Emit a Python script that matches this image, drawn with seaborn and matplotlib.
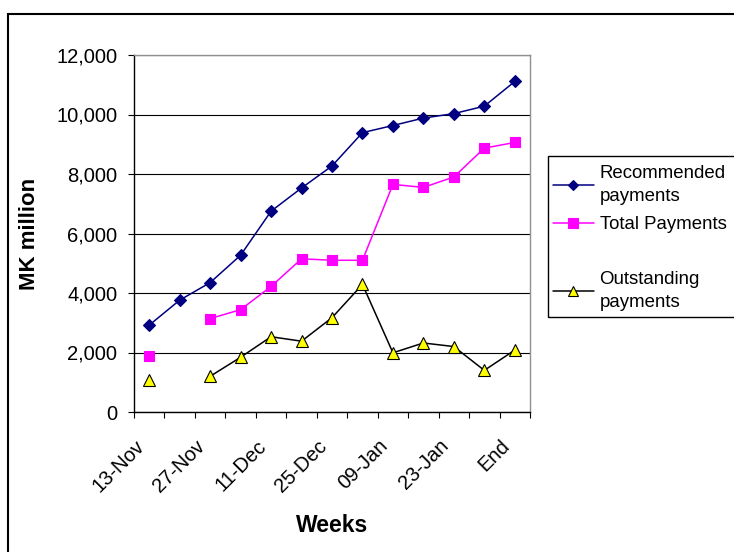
import numpy as np
import pandas as pd
import seaborn as sns
import matplotlib.pyplot as plt
from matplotlib.patches import Rectangle
from matplotlib.ticker import FuncFormatter
from matplotlib.transforms import ScaledTranslation

# weekly figures, MK million (None = no value that week)
weeks = ['13-Nov', '20-Nov', '27-Nov', '04-Dec', '11-Dec', '18-Dec', '25-Dec',
         '02-Jan', '09-Jan', '16-Jan', '23-Jan', '30-Jan', 'End']
recommended = [2920, 3760, 4350, 5270, 6750, 7530, 8270, 9390, 9630, 9880, 10030, 10280, 11110]
total_payments = [1880, None, 3140, 3440, 4220, 5150, 5100, 5100, 7650, 7550, 7900, 8870, 9060]
outstanding = [1060, None, 1200, 1840, 2530, 2380, 3170, 4290, 1990, 2320, 2200, 1400, 2080]

series_names = ['Recommended\npayments', 'Total Payments', 'Outstanding\npayments']
series_vals = [recommended, total_payments, outstanding]
line_cols = ['#000080', '#FF00FF', '#000000']
face_cols = ['#000080', '#FF00FF', '#FFFF00']
markers = ['D', 's', '^']
msizes = [6.5, 7.5, 8]

rows = []
for name, vals in zip(series_names, series_vals):
    seg = 0
    for i, v in enumerate(vals):
        if v is None:
            seg += 1
            continue
        rows.append({'series': name, 'week': i, 'value': v, 'seg': seg})
df = pd.DataFrame(rows)

sns.set_style('white')
plt.rcParams['font.family'] = ['Liberation Sans', 'DejaVu Sans']
plt.rcParams['text.color'] = 'black'
plt.rcParams['axes.labelcolor'] = 'black'
plt.rcParams['xtick.color'] = 'black'
plt.rcParams['ytick.color'] = 'black'

fig = plt.figure(figsize=(7.34, 5.52), dpi=100)
ax = fig.add_axes([134 / 734, 1 - 412 / 552, 396 / 734, 357 / 552])

handles = []
for name, lc, fc, mk, ms in zip(series_names, line_cols, face_cols, markers, msizes):
    sub = df[df['series'] == name]
    sns.lineplot(data=sub, x='week', y='value', units='seg', estimator=None,
                 color=lc, marker=mk, markersize=ms, markerfacecolor=fc,
                 markeredgecolor='black' if mk == '^' else lc, markeredgewidth=0.8,
                 linewidth=1.1, ax=ax, legend=False)
    handles.append(plt.Line2D([], [], color=lc, marker=mk, markersize=ms - 1,
                              markerfacecolor=fc,
                              markeredgecolor='black' if mk == '^' else lc,
                              markeredgewidth=0.8, linewidth=1.1))

ax.set_xlim(-0.5, len(weeks) - 0.5)
ax.set_ylim(0, 12000)
ax.set_yticks(np.arange(0, 12001, 2000))
ax.yaxis.set_major_formatter(FuncFormatter(lambda v, p: f'{int(v):,}'))
ax.yaxis.grid(True, color='black', linewidth=0.8)
ax.xaxis.grid(False)

ax.set_xticks(np.arange(-0.5, len(weeks), 1.0))
ax.set_xticklabels([])
ax.set_xticks(np.arange(0, len(weeks), 2), [weeks[i] for i in range(0, len(weeks), 2)],
              minor=True)
ax.tick_params(axis='x', which='major', direction='out', length=4, width=0.8,
               color='black', bottom=True)
ax.tick_params(axis='x', which='minor', length=0, pad=10, labelsize=14.5)
shift = ScaledTranslation(-0.08, -0.17, fig.dpi_scale_trans)
for lbl in ax.get_xticklabels(minor=True):
    lbl.set_rotation(45)
    lbl.set_ha('right')
    lbl.set_va('center')
    lbl.set_rotation_mode('anchor')
    lbl.set_transform(lbl.get_transform() + shift)
ax.tick_params(axis='y', direction='out', length=4, width=0.8, color='black',
               left=True, pad=8, labelsize=14.5)

for side in ['left', 'bottom']:
    ax.spines[side].set_color('black')
    ax.spines[side].set_linewidth(1.0)
for side in ['top', 'right']:
    ax.spines[side].set_color('#909090')
    ax.spines[side].set_linewidth(1.0)

ax.set_xlabel('Weeks', fontsize=16.5, fontweight='bold', labelpad=13)
ax.set_ylabel('MK million', fontsize=16, fontweight='bold', labelpad=12)

# legend with an empty slot between 2nd and 3rd entry, like the source
blank = plt.Line2D([], [], color='none')
leg = fig.legend([handles[0], handles[1], blank, handles[2]],
                 [series_names[0], series_names[1], ' ', series_names[2]],
                 loc='upper left', bbox_to_anchor=(553 / 734, 1 - 165 / 552),
                 frameon=False, fontsize=13.4, handlelength=2.2, handletextpad=0.3,
                 labelspacing=0.6, borderpad=0, borderaxespad=0)
for t in leg.get_texts():
    t.set_linespacing(1.45)
leg.get_texts()[2].set_fontsize(9)
fig.patches.append(Rectangle((548 / 734, 1 - 317 / 552), 190 / 734, 161 / 552,
                             transform=fig.transFigure, fill=False,
                             edgecolor='black', linewidth=1.0))

# outer chart frame
fig.patches.append(Rectangle((7.5 / 734, -0.05), 1.0, 1 - 13.5 / 552 + 0.05,
                             transform=fig.transFigure, fill=False,
                             edgecolor='black', linewidth=1.5))

fig.savefig('out.png', dpi=100)
